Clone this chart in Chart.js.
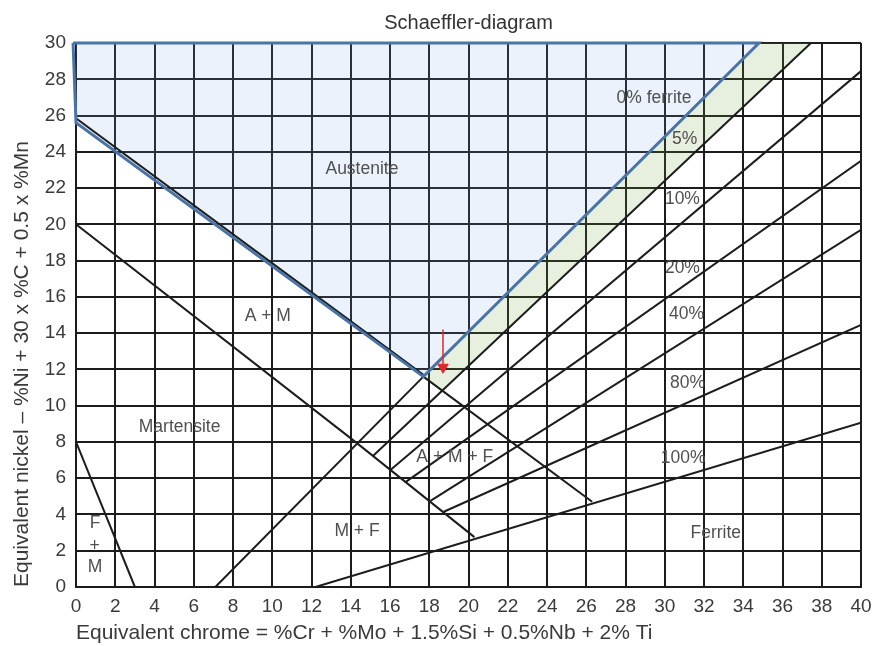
<!DOCTYPE html>
<html>
<head>
<meta charset="utf-8">
<script src="https://cdn.jsdelivr.net/npm/chart.js@4.4.1/dist/chart.umd.min.js"></script>
<style>
  body { margin: 0; background: #fff; }
</style>
</head>
<body>
<canvas id="schaeffler" width="872" height="646"></canvas>
<script>
// Boundaries (Cr-eq on x, Ni-eq on y)
const austeniteX = [0, 17.7, 34.8];
const austeniteY = [25.6, 11.6, 30];
const outlineX = [-0.15, 34.8, 17.7, 0, -0.15];
const outlineY = [30, 30, 11.6, 25.6, 30];

const ferriteNames = ['0%', '5%', '10%', '20%', '40%', '80%', '100%'];
const ferriteX1 = [7.1, 15.13, 16.02, 16.79, 18.06, 18.74, 12.2];
const ferriteY1 = [0, 7.22, 6.45, 5.78, 4.75, 4.15, 0];
const ferriteX2 = [17.7, 37.45, 40, 40, 40, 40, 40];
const ferriteY2 = [11.6, 30, 28.45, 23.5, 19.7, 14.46, 9.06];

const martensiteX = [0, 14.3, 20.3];
const martensiteY = [20, 7.95, 2.75];
const fmX = [0, 3];
const fmY = [8, 0];
const amX = [0, 17.7];
const amY = [25.85, 11.7];
const ferriteEdgeX = [17.7, 26.3];
const ferriteEdgeY = [11.6, 4.7];

// 0-5% ferrite band
const bandTopX = [17.7, 34.8, 37.45];
const bandTopY = [11.6, 30, 30];
const bandLowX = [17.7, 18.66, 37.45];
const bandLowY = [11.6, 10.82, 30];

const arrowX = 18.7;
const arrowY = [14.2, 12.3];
const arrowTipY = 12.12;

// text placed in the diagram
const regionText = ['Austenite', '0% ferrite', '5%', '10%', '20%', '40%', '80%', '100%',
  'Ferrite', 'A + M', 'Martensite', 'A + M + F', 'M + F', 'F', '+', 'M'];
const regionX = [14.57, 29.45, 31.02, 30.9, 30.9, 31.11, 31.16, 30.94, 32.6, 9.77, 5.28, 19.3, 14.32, 0.97, 0.95, 0.97];
const regionY = [23.02, 26.93, 24.68, 21.4, 17.59, 15.07, 11.24, 7.09, 2.98, 14.92, 8.8, 7.18, 3.09, 3.5, 2.25, 1.07];

const FONT = "'Liberation Sans', Arial, Helvetica, sans-serif";
const INK = '#1c1c1c';
const BLUE = '#4a74a6';

function pts(xs, ys) {
    return xs.map((x, i) => ({ x: x, y: ys[i] }));
}

function blackLine(xs, ys) {
    return {
        data: pts(xs, ys),
        borderColor: INK,
        borderWidth: 2,
        pointRadius: 0,
        fill: false,
        order: 2
    };
}

const datasets = [
    { data: pts(bandTopX, bandTopY), borderWidth: 0, borderColor: 'rgba(0,0,0,0)', pointRadius: 0, fill: false, order: 6 },
    { data: pts(bandLowX, bandLowY), borderWidth: 0, borderColor: 'rgba(0,0,0,0)', pointRadius: 0,
      fill: '-1', backgroundColor: 'rgba(110,160,60,0.17)', order: 5 },
    { data: pts(austeniteX, austeniteY), borderWidth: 0, borderColor: 'rgba(0,0,0,0)', pointRadius: 0,
      fill: 'end', backgroundColor: 'rgba(120,170,230,0.15)', order: 5 },
    blackLine(martensiteX, martensiteY),
    blackLine(fmX, fmY),
    blackLine(amX, amY),
    blackLine(ferriteEdgeX, ferriteEdgeY)
];
ferriteNames.forEach((name, i) => {
    datasets.push(blackLine([ferriteX1[i], ferriteX2[i]], [ferriteY1[i], ferriteY2[i]]));
});
datasets.push({
    data: pts(outlineX, outlineY),
    borderColor: BLUE,
    borderWidth: 3,
    pointRadius: 0,
    fill: false,
    clip: false,
    order: 1
});
datasets.push({
    data: pts([arrowX, arrowX], arrowY),
    borderColor: '#e3262a',
    borderWidth: 1.5,
    pointRadius: 0,
    fill: false,
    order: 0
});
datasets.push({
    data: [{ x: arrowX, y: arrowTipY }],
    showLine: false,
    pointStyle: 'triangle',
    rotation: 180,
    pointRadius: 6,
    backgroundColor: '#e3262a',
    borderColor: '#e3262a',
    borderWidth: 1,
    order: 0
});

const labelPlugin = {
    id: 'regionLabels',
    afterDatasetsDraw(chart) {
        const { ctx, chartArea, scales: { x, y } } = chart;
        ctx.save();
        ctx.font = '17.5px ' + FONT;
        ctx.fillStyle = '#505050';
        ctx.textAlign = 'center';
        ctx.textBaseline = 'middle';
        regionText.forEach((t, i) => {
            ctx.fillText(t, x.getPixelForValue(regionX[i]), y.getPixelForValue(regionY[i]));
        });
        // heading centred over the plot
        ctx.font = '20px ' + FONT;
        ctx.fillStyle = '#333';
        ctx.textBaseline = 'alphabetic';
        ctx.fillText('Schaeffler-diagram', (chartArea.left + chartArea.right) / 2, 28.5);
        ctx.restore();
    }
};

Chart.defaults.font.family = FONT;

new Chart(document.getElementById('schaeffler'), {
    type: 'line',
    data: { datasets: datasets },
    options: {
        responsive: false,
        animation: false,
        events: [],
        layout: { padding: { top: 43, right: 11, left: 0, bottom: 0 } },
        plugins: {
            legend: { display: false },
            tooltip: { enabled: false }
        },
        scales: {
            x: {
                type: 'linear',
                min: 0,
                max: 40,
                afterFit: s => { s.height = 59; s.paddingLeft = 0; s.paddingRight = 0; },
                ticks: { stepSize: 2, padding: 8, color: '#3a3a3a', font: { size: 19 } },
                grid: { color: INK, lineWidth: 2, drawTicks: false },
                border: { color: INK, width: 2 },
                title: {
                    display: true,
                    align: 'start',
                    text: 'Equivalent chrome = %Cr + %Mo + 1.5%Si + 0.5%Nb + 2% Ti',
                    color: '#3a3a3a',
                    font: { size: 21 },
                    padding: { top: 0, bottom: 0 }
                }
            },
            y: {
                type: 'linear',
                min: 0,
                max: 30,
                afterFit: s => { s.width = 76; },
                ticks: { stepSize: 2, padding: 10, color: '#3a3a3a', font: { size: 19 } },
                grid: { color: INK, lineWidth: 2, drawTicks: false },
                border: { color: INK, width: 2 },
                title: {
                    display: true,
                    align: 'start',
                    text: 'Equivalent nickel – %Ni + 30 x %C + 0.5 x %Mn',
                    color: '#3a3a3a',
                    font: { size: 21 },
                    padding: { top: 10, bottom: 0 }
                }
            }
        }
    },
    plugins: [labelPlugin]
});
</script>
</body>
</html>
